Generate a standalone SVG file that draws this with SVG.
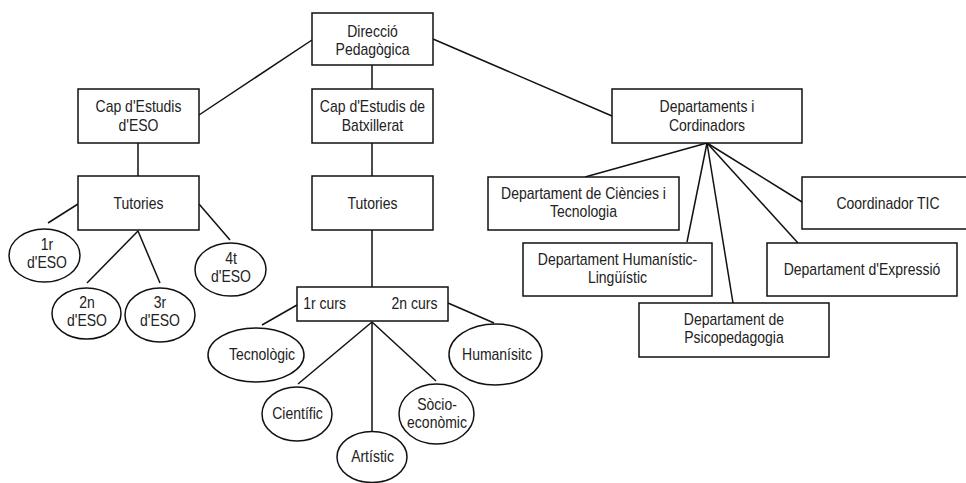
<svg xmlns="http://www.w3.org/2000/svg" width="966" height="483" viewBox="0 0 966 483">
<style>
.n{fill:#fff;stroke:#111;stroke-width:1.5}
.c line{stroke:#111;stroke-width:1.5}
text{font-family:"Liberation Sans",Arial,sans-serif;font-size:16px;fill:#222;text-anchor:middle}
</style>
<rect width="966" height="483" fill="#fff"/>
<g class="c" id="connectors">
<line x1="372" y1="65" x2="372" y2="89"/>
<line x1="312" y1="40" x2="199" y2="115"/>
<line x1="433" y1="39" x2="612" y2="116"/>
<line x1="138" y1="143" x2="138" y2="176"/>
<line x1="372" y1="143" x2="372" y2="176"/>
<line x1="78" y1="204" x2="48" y2="223"/>
<line x1="138" y1="231" x2="87" y2="283"/>
<line x1="138" y1="231" x2="160" y2="283"/>
<line x1="199" y1="204" x2="230" y2="240"/>
<line x1="372" y1="230" x2="372" y2="287"/>
<line x1="297" y1="305" x2="262" y2="325"/>
<line x1="372" y1="322" x2="298" y2="384"/>
<line x1="372" y1="322" x2="372" y2="431"/>
<line x1="372" y1="322" x2="436" y2="381"/>
<line x1="448" y1="303" x2="494" y2="323"/>
<line x1="707" y1="143" x2="585" y2="177"/>
<line x1="707" y1="143" x2="687" y2="242"/>
<line x1="707" y1="143" x2="733" y2="303"/>
<line x1="707" y1="143" x2="798" y2="243"/>
<line x1="707" y1="143" x2="802" y2="202"/>
</g>
<g id="direccio"><rect class="n" x="312" y="13" width="121" height="52"/><text transform="translate(372.5 0) scale(.875 1)" y="37">Direcció</text><text transform="translate(372.5 0) scale(.875 1)" y="55">Pedagògica</text></g>
<g id="cap-eso"><rect class="n" x="78" y="89" width="121" height="54"/><text transform="translate(138.5 0) scale(.875 1)" y="112">Cap d'Estudis</text><text transform="translate(138.5 0) scale(.875 1)" y="131">d'ESO</text></g>
<g id="cap-batx"><rect class="n" x="312" y="89" width="121" height="54"/><text transform="translate(372.5 0) scale(.875 1)" y="112">Cap d'Estudis de</text><text transform="translate(372.5 0) scale(.875 1)" y="131">Batxillerat</text></g>
<g id="departaments"><rect class="n" x="612" y="89" width="190" height="54"/><text transform="translate(707 0) scale(.875 1)" y="112">Departaments i</text><text transform="translate(707 0) scale(.875 1)" y="131">Cordinadors</text></g>
<g id="tutories-eso"><rect class="n" x="78" y="176" width="121" height="54"/><text transform="translate(138.5 0) scale(.875 1)" y="209">Tutories</text></g>
<g id="tutories-batx"><rect class="n" x="312" y="176" width="121" height="54"/><text transform="translate(372.5 0) scale(.875 1)" y="209">Tutories</text></g>
<g id="eso1"><ellipse class="n" cx="44.5" cy="255.5" rx="35.5" ry="26.5"/><text transform="translate(47 0) scale(.875 1)" y="250">1r</text><text transform="translate(47 0) scale(.875 1)" y="268">d'ESO</text></g>
<g id="eso2"><ellipse class="n" cx="86.5" cy="313.5" rx="34.5" ry="25.5"/><text transform="translate(87 0) scale(.875 1)" y="308">2n</text><text transform="translate(87 0) scale(.875 1)" y="326">d'ESO</text></g>
<g id="eso3"><ellipse class="n" cx="160" cy="315" rx="35" ry="27"/><text transform="translate(160 0) scale(.875 1)" y="308">3r</text><text transform="translate(160 0) scale(.875 1)" y="326">d'ESO</text></g>
<g id="eso4"><ellipse class="n" cx="230.5" cy="269.5" rx="35.5" ry="26.5"/><text transform="translate(231 0) scale(.875 1)" y="264">4t</text><text transform="translate(231 0) scale(.875 1)" y="282">d'ESO</text></g>
<g id="cursos"><rect class="n" x="297" y="287" width="151" height="34"/><text transform="translate(324.5 0) scale(.875 1)" y="309">1r curs</text><text transform="translate(414.5 0) scale(.875 1)" y="309">2n curs</text></g>
<g id="tecnologic"><ellipse class="n" cx="256" cy="355" rx="48" ry="27"/><text transform="translate(262 0) scale(.875 1)" y="360">Tecnològic</text></g>
<g id="cientific"><ellipse class="n" cx="297" cy="414" rx="35" ry="27"/><text transform="translate(297.5 0) scale(.875 1)" y="419">Científic</text></g>
<g id="artistic"><ellipse class="n" cx="372" cy="457" rx="35" ry="25.5"/><text transform="translate(372.5 0) scale(.875 1)" y="462">Artístic</text></g>
<g id="socio"><ellipse class="n" cx="436.5" cy="414" rx="37.5" ry="30"/><text transform="translate(437 0) scale(.875 1)" y="410">Sòcio-</text><text transform="translate(437 0) scale(.875 1)" y="428">econòmic</text></g>
<g id="humanisitc"><ellipse class="n" cx="495.5" cy="354.5" rx="46.5" ry="30.5"/><text transform="translate(497 0) scale(.875 1)" y="360">Humanísitc</text></g>
<g id="dept-ciencies"><rect class="n" x="488" y="177" width="191" height="53"/><text transform="translate(583.5 0) scale(.875 1)" y="199">Departament de Ciències i</text><text transform="translate(583.5 0) scale(.875 1)" y="217">Tecnologia</text></g>
<g id="coord-tic"><rect class="n" x="802" y="177" width="174" height="52"/><text transform="translate(888 0) scale(.875 1)" y="209">Coordinador TIC</text></g>
<g id="dept-humanistic"><rect class="n" x="523" y="243" width="189" height="53"/><text transform="translate(617.5 0) scale(.875 1)" y="265">Departament Humanístic-</text><text transform="translate(617.5 0) scale(.875 1)" y="283">Lingüístic</text></g>
<g id="dept-expressio"><rect class="n" x="767" y="243" width="190" height="53"/><text transform="translate(862 0) scale(.875 1)" y="275">Departament d'Expressió</text></g>
<g id="dept-psico"><rect class="n" x="639" y="303" width="190" height="54"/><text transform="translate(734 0) scale(.875 1)" y="325">Departament de</text><text transform="translate(734 0) scale(.875 1)" y="343">Psicopedagogia</text></g>
</svg>
